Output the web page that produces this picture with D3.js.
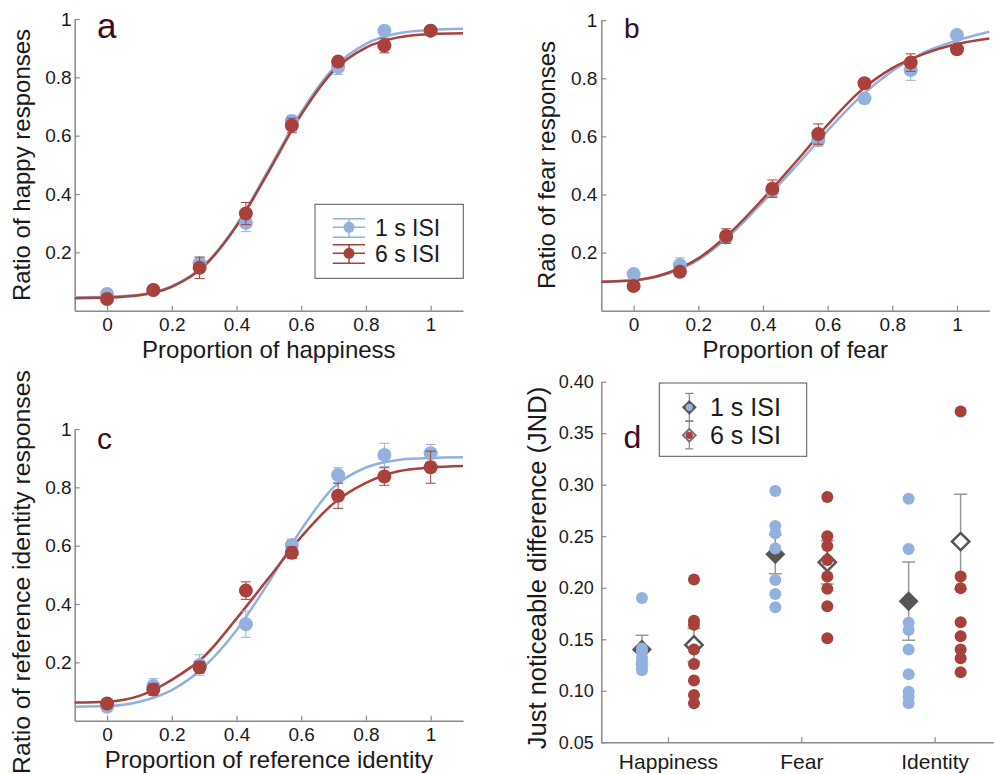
<!DOCTYPE html>
<html>
<head>
<meta charset="utf-8">
<script src="https://cdn.jsdelivr.net/npm/d3@7"></script>
<style>
  body { margin: 0; background: #fff; }
  text { font-family: "Liberation Sans", Arial, sans-serif; fill: #1a1a1a; }
</style>
</head>
<body>
<div id="chart"></div>
<script>
// niveaux de morphing (proportion de l'émotion / identité)
const levels = [0, 0.143, 0.286, 0.429, 0.571, 0.714, 0.857, 1];
// abscisses où les courbes ajustées ont été relevées
const fitX = [-0.1, 0, 0.1, 0.2, 0.3, 0.4, 0.5, 0.6, 0.7, 0.8, 0.9, 1, 1.1];

// a : joie
const happyMean1 = [0.057, 0.071, 0.162, 0.301, 0.650, 0.835, 0.960, 0.960];
const happySE1   = [0.010, 0.008, 0.020, 0.030, 0.020, 0.025, 0.010, 0.010];
const happyMean6 = [0.040, 0.071, 0.147, 0.333, 0.635, 0.854, 0.909, 0.960];
const happySE6   = [0.010, 0.008, 0.037, 0.038, 0.025, 0.015, 0.025, 0.010];
const happyFit1  = [0.046, 0.048, 0.055, 0.084, 0.156, 0.294, 0.485, 0.681, 0.832, 0.915, 0.951, 0.963, 0.967];
const happyFit6  = [0.043, 0.045, 0.053, 0.082, 0.153, 0.290, 0.478, 0.672, 0.822, 0.902, 0.937, 0.948, 0.951];

// b : peur
const fearMean1 = [0.126, 0.157, 0.252, 0.413, 0.587, 0.731, 0.828, 0.949];
const fearSE1   = [0.015, 0.025, 0.020, 0.020, 0.020, 0.015, 0.035, 0.012];
const fearMean6 = [0.085, 0.134, 0.257, 0.420, 0.608, 0.783, 0.854, 0.900];
const fearSE6   = [0.010, 0.015, 0.025, 0.030, 0.035, 0.015, 0.030, 0.015];
const fearFit1  = [0.100, 0.104, 0.125, 0.175, 0.262, 0.375, 0.495, 0.620, 0.735, 0.825, 0.890, 0.930, 0.960];
const fearFit6  = [0.100, 0.105, 0.128, 0.180, 0.270, 0.385, 0.510, 0.640, 0.755, 0.835, 0.885, 0.918, 0.937];

// c : identité
const identMean1 = [0.048, 0.119, 0.191, 0.331, 0.602, 0.842, 0.911, 0.917];
const identSE1   = [0.012, 0.025, 0.035, 0.045, 0.020, 0.025, 0.040, 0.030];
const identMean6 = [0.059, 0.107, 0.183, 0.446, 0.576, 0.771, 0.837, 0.869];
const identSE6   = [0.010, 0.020, 0.020, 0.030, 0.020, 0.043, 0.030, 0.055];
const identFit1  = [0.048, 0.050, 0.065, 0.105, 0.185, 0.310, 0.475, 0.655, 0.800, 0.868, 0.894, 0.901, 0.903];
const identFit6  = [0.062, 0.065, 0.085, 0.140, 0.220, 0.350, 0.490, 0.630, 0.745, 0.815, 0.855, 0.868, 0.873];

// d : JND par sujet
const categories = ["Happiness", "Fear", "Identity"];
const jnd1 = [
  [0.190, 0.141, 0.138, 0.132, 0.128, 0.123, 0.120],
  [0.294, 0.260, 0.253, 0.238, 0.2075, 0.194, 0.181],
  [0.2865, 0.2376, 0.166, 0.159, 0.140, 0.116, 0.099, 0.094, 0.088]
];
const jnd6 = [
  [0.208, 0.168, 0.164, 0.140, 0.126, 0.110, 0.096, 0.088],
  [0.288, 0.250, 0.2405, 0.227, 0.211, 0.199, 0.182, 0.151],
  [0.371, 0.211, 0.1995, 0.1665, 0.153, 0.140, 0.1316, 0.118]
];
const jndMean1 = [0.140, 0.2325, 0.187];
const jndSE1   = [0.014, 0.019, 0.038];
const jndMean6 = [0.1445, 0.2247, 0.2448];
const jndSE6   = [0.016, 0.021, 0.046];

const blue = "#93b1dc", red = "#a8403b", axisCol = "#8a8a8a", labelCol = "#3a0c22";

const svg = d3.select("#chart").append("svg")
    .attr("width", 994)
    .attr("height", 774);

function styleAxis(g, fs) {
  g.select(".domain").attr("stroke", axisCol).attr("stroke-width", 1.5);
  g.selectAll(".tick line").attr("stroke", axisCol).attr("stroke-width", 1.2);
  g.selectAll(".tick text").attr("font-size", fs).attr("fill", "#1a1a1a");
}

// panneau psychométrique (a, b, c)
function psychPanel(p) {
  const x = d3.scaleLinear().domain([-0.1, 1.1]).range(p.xr);
  const y = d3.scaleLinear().domain([0, 1]).range(p.yr);
  const g = svg.append("g");

  g.append("g")
      .attr("transform", `translate(0,${p.yr[0]})`)
      .call(d3.axisBottom(x).tickValues([0, 0.2, 0.4, 0.6, 0.8, 1])
        .tickFormat(d3.format("~g")).tickSize(-5).tickSizeOuter(0).tickPadding(7))
      .call(a => styleAxis(a, 19));
  g.append("g")
      .attr("transform", `translate(${p.xr[0]},0)`)
      .call(d3.axisLeft(y).tickValues([0.2, 0.4, 0.6, 0.8, 1])
        .tickFormat(d3.format("~g")).tickSize(-5).tickSizeOuter(0).tickPadding(p.pad))
      .call(a => styleAxis(a, 19));

  const line = d3.line().x((d, i) => x(fitX[i])).y(d => y(d)).curve(d3.curveMonotoneX);
  [[p.fit1, blue], [p.fit6, red]].forEach(([f, c]) => {
    g.append("path").attr("d", line(f)).attr("fill", "none")
        .attr("stroke", c).attr("stroke-width", 2.5);
  });

  [[p.mean1, p.se1, blue], [p.mean6, p.se6, red]].forEach(([m, se, c]) => {
    const s = g.append("g");
    levels.forEach((lv, i) => {
      const cx = x(lv), y0 = y(m[i] - se[i]), y1 = y(m[i] + se[i]);
      s.append("path")
          .attr("d", `M${cx},${y0}V${y1}M${cx - 5},${y0}H${cx + 5}M${cx - 5},${y1}H${cx + 5}`)
          .attr("stroke", c).attr("stroke-width", 1).attr("fill", "none");
    });
    s.selectAll("circle").data(m).join("circle")
        .attr("cx", (d, i) => x(levels[i]))
        .attr("cy", d => y(d))
        .attr("r", 7)
        .attr("fill", c);
  });

  g.append("text").attr("x", (p.xr[0] + p.xr[1]) / 2).attr("y", p.xtY)
      .attr("text-anchor", "middle").attr("font-size", 24).text(p.xTitle);
  g.append("text").attr("transform", `translate(${p.ytX},${p.ytY}) rotate(-90)`)
      .attr("text-anchor", "middle").attr("font-size", p.ytFs).text(p.yTitle);
  g.append("text").attr("x", p.lab[0]).attr("y", p.lab[1]).attr("font-size", p.lab[2])
      .attr("fill", labelCol).style("fill", labelCol).text(p.letter);
}

psychPanel({
  xr: [74.7, 463], yr: [310.7, 19], pad: 3,
  mean1: happyMean1, se1: happySE1, mean6: happyMean6, se6: happySE6,
  fit1: happyFit1, fit6: happyFit6,
  xTitle: "Proportion of happiness", xtY: 357.5,
  yTitle: "Ratio of happy responses", ytX: 29.5, ytY: 165, ytFs: 24,
  letter: "a", lab: [97, 38, 35]
});
psychPanel({
  xr: [601.3, 989.3], yr: [310.7, 20.2], pad: 4,
  mean1: fearMean1, se1: fearSE1, mean6: fearMean6, se6: fearSE6,
  fit1: fearFit1, fit6: fearFit6,
  xTitle: "Proportion of fear", xtY: 358,
  yTitle: "Ratio of fear responses", ytX: 554.5, ytY: 165, ytFs: 24,
  letter: "b", lab: [624, 38, 28]
});
psychPanel({
  xr: [74.7, 463], yr: [720.7, 429], pad: 3,
  mean1: identMean1, se1: identSE1, mean6: identMean6, se6: identSE6,
  fit1: identFit1, fit6: identFit6,
  xTitle: "Proportion of reference identity", xtY: 768,
  yTitle: "Ratio of reference identity responses", ytX: 29.5, ytY: 572, ytFs: 24.8,
  letter: "c", lab: [97, 449, 30]
});

// légende du panneau a
const legA = svg.append("g");
legA.append("rect").attr("x", 315).attr("y", 204.3).attr("width", 148.3).attr("height", 74)
    .attr("fill", "#fff").attr("stroke", "#555").attr("stroke-width", 1);
[["1 s ISI", blue, 227.3], ["6 s ISI", red, 253.3]].forEach(([t, c, cy]) => {
  legA.append("path")
      .attr("d", `M332.7,${cy - 8.5}H365M332.7,${cy}H365M332.7,${cy + 10}H365M349,${cy - 8.5}V${cy + 10}`)
      .attr("stroke", c).attr("stroke-width", 1.4).attr("fill", "none");
  legA.append("circle").attr("cx", 349).attr("cy", cy).attr("r", 5.5).attr("fill", c);
  legA.append("text").attr("x", 375).attr("y", cy + 8.3).attr("font-size", 23).text(t);
});

// panneau d
const xd = d3.scaleLinear().domain([0.5, 3.5]).range([601.3, 1001.3]);
const yd = d3.scaleLinear().domain([0.05, 0.40]).range([742.3, 381.7]);
const gd = svg.append("g");
gd.append("g")
    .attr("transform", "translate(0,742.3)")
    .call(d3.axisBottom(xd).tickValues([1, 2, 3]).tickFormat(i => categories[i - 1])
      .tickSize(-5).tickSizeOuter(0).tickPadding(12))
    .call(a => styleAxis(a, 21));
gd.append("g")
    .attr("transform", "translate(601.3,0)")
    .call(d3.axisLeft(yd).tickValues([0.05, 0.10, 0.15, 0.20, 0.25, 0.30, 0.35, 0.40])
      .tickFormat(d3.format(".2f")).tickSize(-5).tickSizeOuter(0).tickPadding(7.5))
    .call(a => styleAxis(a, 18));

const diamond = size => d3.symbol(d3.symbolSquare, size)();
const off = 0.195;
categories.forEach((cat, i) => {
  [[jnd1[i], jndMean1[i], jndSE1[i], -off, blue, true],
   [jnd6[i], jndMean6[i], jndSE6[i], off, red, false]].forEach(([pts, m, se, dx, c, filled]) => {
    const cx = xd(i + 1 + dx), y0 = yd(m - se), y1 = yd(m + se);
    gd.append("path")
        .attr("d", `M${cx},${y0}V${y1}M${cx - 6.5},${y0}H${cx + 6.5}M${cx - 6.5},${y1}H${cx + 6.5}`)
        .attr("stroke", "#999").attr("stroke-width", 1.5).attr("fill", "none");
    gd.append("path").attr("d", filled ? diamond(200) : diamond(150))
        .attr("transform", `translate(${cx},${yd(m)}) rotate(45)`)
        .attr("fill", filled ? "#555" : "#fff")
        .attr("stroke", filled ? "none" : "#555").attr("stroke-width", 2.5);
    gd.append("g").selectAll("circle").data(pts).join("circle")
        .attr("cx", cx).attr("cy", d => yd(d)).attr("r", 6).attr("fill", c);
  });
});

gd.append("text").attr("transform", "translate(546,568) rotate(-90)")
    .attr("text-anchor", "middle").attr("font-size", 25.5).text("Just noticeable difference (JND)");
gd.append("text").attr("x", 623.5).attr("y", 448.3).attr("font-size", 32)
    .style("fill", labelCol).text("d");

// légende du panneau d
const legD = svg.append("g");
legD.append("rect").attr("x", 659.3).attr("y", 383).attr("width", 147.4).attr("height", 73.3)
    .attr("fill", "#fff").attr("stroke", "#555").attr("stroke-width", 1);
[["1 s ISI", blue, 407.3, true], ["6 s ISI", red, 435.3, false]].forEach(([t, c, cy, filled]) => {
  legD.append("path")
      .attr("d", `M689.3,${cy - 14}V${cy + 13.5}M685.3,${cy - 14}H693.3M685.3,${cy + 13.5}H693.3`)
      .attr("stroke", "#888").attr("stroke-width", 1.2).attr("fill", "none");
  legD.append("path").attr("d", diamond(filled ? 110 : 80))
      .attr("transform", `translate(689.3,${cy}) rotate(45)`)
      .attr("fill", filled ? "#555" : "#fff")
      .attr("stroke", filled ? "none" : "#777").attr("stroke-width", 2);
  legD.append("circle").attr("cx", 689.3).attr("cy", cy).attr("r", 3.6).attr("fill", c);
  legD.append("text").attr("x", 710).attr("y", cy + 9).attr("font-size", 25).text(t);
});
</script>
</body>
</html>
